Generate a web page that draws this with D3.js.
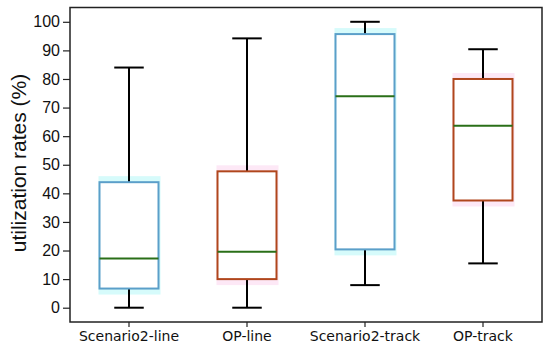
<!DOCTYPE html>
<html>
<head>
<meta charset="utf-8">
<script src="https://cdn.jsdelivr.net/npm/d3@7"></script>
<style>
  body { margin: 0; background: #fff; }
  svg { display: block; }
</style>
</head>
<body>
<div id="chart"></div>
<script>
// categories and box stats
var categories = ['Scenario2-line', 'OP-line', 'Scenario2-track', 'OP-track'];
var whiskerLow = [0, 0, 7.9, 15.5];
var q1 = [6.7, 10.0, 20.4, 37.5];
var medians = [17.2, 19.6, 74.0, 63.6];
var q3 = [43.9, 47.7, 95.7, 80.0];
var whiskerHigh = [84.0, 94.2, 100, 90.4];
var yTicks = [0, 10, 20, 30, 40, 50, 60, 70, 80, 90, 100];

// svg area
var svgWidth = 550;
var svgHeight = 353;

var margin = { top: 7.5, right: 8, bottom: 31, left: 70 };
var chartWidth = svgWidth - margin.left - margin.right;
var chartHeight = svgHeight - margin.top - margin.bottom;

var svg = d3.select('#chart')
  .append('svg')
  .attr('width', svgWidth)
  .attr('height', svgHeight);

var chartGroup = svg.append('g')
  .attr('transform', `translate(${margin.left}, ${margin.top})`);

// scales
var xScale = d3.scaleBand()
  .domain(categories)
  .range([0, chartWidth])
  .padding(0);

var yScale = d3.scaleLinear()
  .domain([-5, 105])
  .range([chartHeight, 0]);

var edgeColors = ['#5b9fc9', '#b0461d', '#5b9fc9', '#b0461d'];
var haloColors = ['#d6fbfb', '#fde8f6', '#d6fbfb', '#fde8f6'];

var boxW = xScale.bandwidth() * 0.5;
var capW = boxW * 0.5;

var data = categories.map(function(c, i) {
  return { cat: c, lo: whiskerLow[i], q1: q1[i], med: medians[i], q3: q3[i], hi: whiskerHigh[i], i: i };
});

var boxes = chartGroup.selectAll('.box')
  .data(data)
  .enter()
  .append('g')
  .attr('class', 'box')
  .attr('transform', d => `translate(${xScale(d.cat) + xScale.bandwidth() / 2}, 0)`);

// faint halo behind each box
boxes.append('rect')
  .attr('x', -boxW / 2 - 1)
  .attr('y', d => yScale(d.q3) - 6)
  .attr('width', boxW + 3)
  .attr('height', d => yScale(d.q1) - yScale(d.q3) + 12)
  .attr('fill', d => haloColors[d.i]);

// whiskers
boxes.append('line')
  .attr('x1', 0).attr('x2', 0)
  .attr('y1', d => yScale(d.q3))
  .attr('y2', d => yScale(d.hi))
  .attr('stroke', '#000')
  .attr('stroke-width', 2);

boxes.append('line')
  .attr('x1', 0).attr('x2', 0)
  .attr('y1', d => yScale(d.q1))
  .attr('y2', d => yScale(d.lo))
  .attr('stroke', '#000')
  .attr('stroke-width', 2);

// caps
boxes.append('line')
  .attr('x1', -capW / 2).attr('x2', capW / 2)
  .attr('y1', d => yScale(d.hi))
  .attr('y2', d => yScale(d.hi))
  .attr('stroke', '#000')
  .attr('stroke-width', 2);

boxes.append('line')
  .attr('x1', -capW / 2).attr('x2', capW / 2)
  .attr('y1', d => yScale(d.lo))
  .attr('y2', d => yScale(d.lo))
  .attr('stroke', '#000')
  .attr('stroke-width', 2);

// box
boxes.append('rect')
  .attr('x', -boxW / 2)
  .attr('y', d => yScale(d.q3))
  .attr('width', boxW)
  .attr('height', d => yScale(d.q1) - yScale(d.q3))
  .attr('fill', '#fff')
  .attr('stroke', d => edgeColors[d.i])
  .attr('stroke-width', 2);

// median
boxes.append('line')
  .attr('x1', -boxW / 2).attr('x2', boxW / 2)
  .attr('y1', d => yScale(d.med))
  .attr('y2', d => yScale(d.med))
  .attr('stroke', '#2a6f18')
  .attr('stroke-width', 2);

// frame
chartGroup.append('rect')
  .attr('x', 0)
  .attr('y', 0)
  .attr('width', chartWidth)
  .attr('height', chartHeight)
  .attr('fill', 'none')
  .attr('stroke', '#222')
  .attr('stroke-width', 1.5);

// axes
var leftAxis = d3.axisLeft(yScale)
  .tickValues(yTicks)
  .tickSize(7)
  .tickPadding(3);

var yAxis = chartGroup.append('g').call(leftAxis);
yAxis.select('.domain').remove();
yAxis.selectAll('line').attr('stroke', '#222').attr('stroke-width', 1.2);
yAxis.selectAll('text')
  .attr('fill', '#111')
  .style('font-family', 'Liberation Sans, Arial, sans-serif')
  .style('font-size', '16px');

var bottomAxis = d3.axisBottom(xScale)
  .tickSize(5)
  .tickPadding(4);

var xAxis = chartGroup.append('g')
  .attr('transform', `translate(0, ${chartHeight})`)
  .call(bottomAxis);
xAxis.select('.domain').remove();
xAxis.selectAll('line').attr('stroke', '#222').attr('stroke-width', 1.2);
xAxis.selectAll('text')
  .attr('fill', '#111')
  .style('font-family', 'DejaVu Sans, sans-serif')
  .style('font-size', '14px');

// y label
svg.append('text')
  .attr('transform', 'rotate(-90)')
  .attr('x', -163)
  .attr('y', 26)
  .attr('text-anchor', 'middle')
  .attr('fill', '#111')
  .style('font-family', 'Liberation Sans, Arial, sans-serif')
  .style('font-size', '21px')
  .text('utilization rates (%)');
</script>
</body>
</html>
